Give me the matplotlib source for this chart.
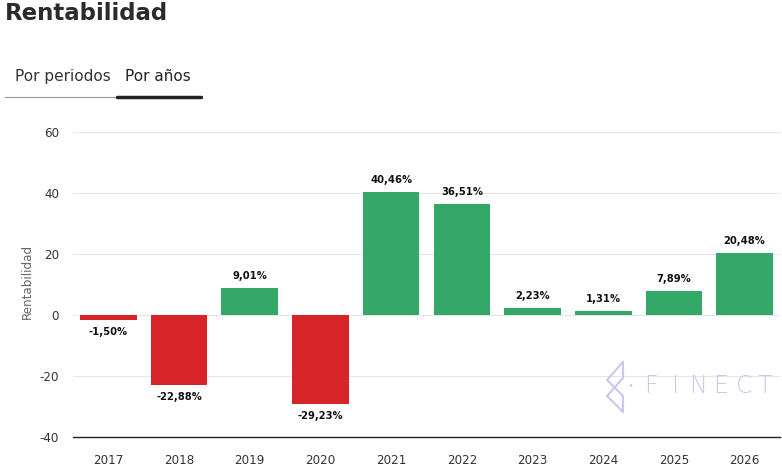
import matplotlib
matplotlib.use("Agg")
import matplotlib.pyplot as plt
from matplotlib.lines import Line2D

years = ["2017", "2018", "2019", "2020", "2021", "2022", "2023", "2024", "2025", "2026"]
values = [-1.50, -22.88, 9.01, -29.23, 40.46, 36.51, 2.23, 1.31, 7.89, 20.48]
yticks = [-40, -20, 0, 20, 40, 60]

GREEN = "#33a869"
RED = "#d62429"

fig = plt.figure(figsize=(7.82, 4.73), dpi=100)
W, H = 782, 473
ax = fig.add_axes([73 / W, 1 - 437 / H, (780 - 73) / W, (437 - 132) / H])

x = list(range(len(years)))
colors = [GREEN if v >= 0 else RED for v in values]
ax.bar(x, values, width=0.8, color=colors, zorder=3)

ax.set_xlim(-0.5, len(years) - 0.5)
ax.set_ylim(-40, 60)
ax.set_yticks(yticks)
ax.set_yticklabels([str(t) for t in yticks], fontsize=8.6, color="#333333")
ax.set_xticks(x)
ax.set_xticklabels(years, fontsize=8.6, color="#333333")
ax.tick_params(axis="x", length=0, pad=12.5)
ax.tick_params(axis="y", length=0, pad=10)
ax.grid(axis="y", color="#e6e6e6", linewidth=0.8, zorder=0)
for s in ["top", "right", "left"]:
    ax.spines[s].set_visible(False)
ax.spines["bottom"].set_color("#222222")
ax.spines["bottom"].set_linewidth(1.0)
ax.set_ylabel("Rentabilidad", fontsize=8.6, color="#666666")
ax.yaxis.set_label_coords((34 - 73) / 707, 0.51)

for xi, v in zip(x, values):
    lab = f"{v:.2f}%".replace(".", ",")
    if v >= 0:
        ax.annotate(lab, (xi, v), xytext=(0, 5), textcoords="offset points",
                    ha="center", va="bottom", fontsize=7.2, fontweight="bold", color="#111111")
    else:
        ax.annotate(lab, (xi, v), xytext=(0, -5), textcoords="offset points",
                    ha="center", va="top", fontsize=7.2, fontweight="bold", color="#111111")

# Title and tabs
fig.text(5 / W, 1 - 14 / H, "Rentabilidad", fontsize=16.5, fontweight="bold",
         color="#2b2b2b", ha="left", va="center")
fig.text(15 / W, 1 - 76 / H, "Por periodos", fontsize=11, color="#333333", ha="left", va="center")
fig.text(125 / W, 1 - 76 / H, "Por años", fontsize=11, color="#222222", ha="left", va="center")
fig.add_artist(Line2D([5 / W, 117 / W], [1 - 97 / H, 1 - 97 / H], color="#999999", lw=0.8,
                      transform=fig.transFigure))
fig.add_artist(Line2D([117 / W, 201 / W], [1 - 97 / H, 1 - 97 / H], color="#222222", lw=2.5,
                      transform=fig.transFigure, solid_capstyle="round"))

# Watermark
wm = "#cac8f1"
def fline(pts, lw=1.5):
    fig.add_artist(Line2D([p[0] / W for p in pts], [1 - p[1] / H for p in pts],
                          color=wm, lw=lw, transform=fig.transFigure,
                          solid_joinstyle="round", solid_capstyle="round"))
fline([(623, 362), (607, 380), (623, 396), (623, 412)])
fline([(623, 362), (623, 378), (607, 396), (623, 412)])
fig.text(630 / W, 1 - 386 / H, "•", fontsize=7, color=wm, ha="center", va="center")
letters = ["F", "I", "N", "E", "C", "T"]
centers = [651, 675, 698, 721, 744, 765]
for ch, cx in zip(letters, centers):
    fig.text(cx / W, 1 - 386 / H, ch, fontsize=17, color=wm, ha="center", va="center",
             family="DejaVu Sans", fontweight="light")

fig.savefig("out.png", dpi=100)
